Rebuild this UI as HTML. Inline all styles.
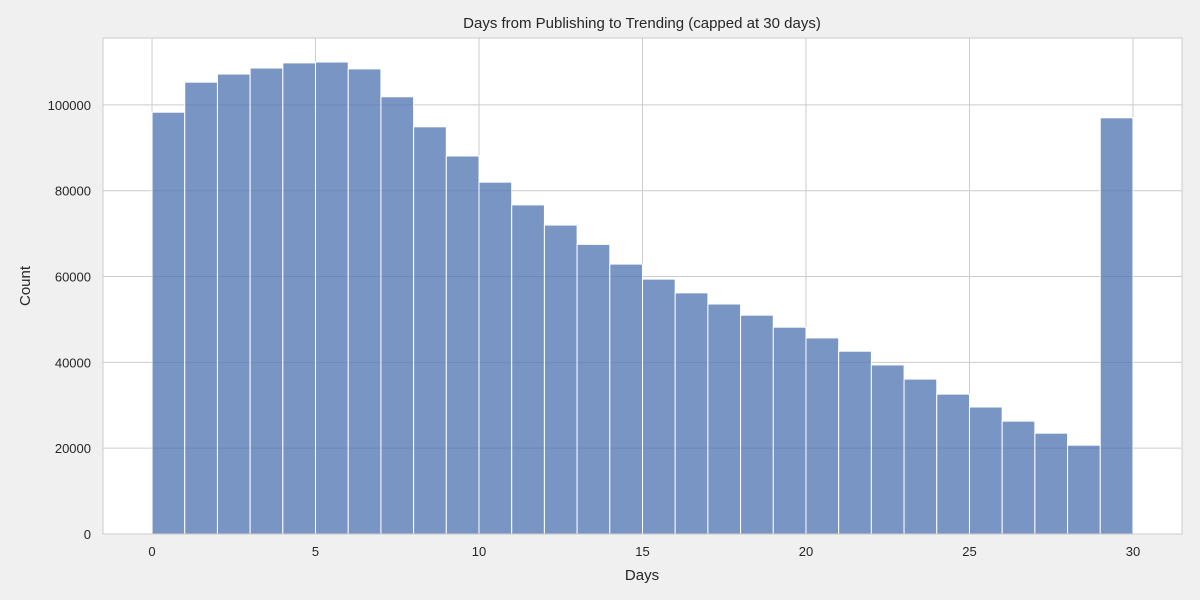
<!DOCTYPE html>
<html><head><meta charset="utf-8"><style>
body{margin:0;background:#f0f0f0;font-family:"Liberation Sans",sans-serif;}
svg{display:block}
</style></head><body>
<svg id="chart" width="1200" height="600">
<rect x="0" y="0" width="1200" height="600" fill="#f0f0f0"/>
<rect x="103" y="38" width="1079" height="496" fill="#ffffff"/>
<g id="grid"></g><g id="bars"></g><g id="ticks"></g>
<rect x="103" y="38" width="1079" height="496" fill="none" stroke="#cccccc" stroke-width="1"/>
<text x="642" y="28" text-anchor="middle" font-size="15" fill="#262626">Days from Publishing to Trending (capped at 30 days)</text>
<text x="642" y="580" text-anchor="middle" font-size="15" fill="#262626">Days</text>
<text x="30" y="286" text-anchor="middle" font-size="15" fill="#262626" transform="rotate(-90 30 286)">Count</text>
</svg>
<script>
const binStarts=[0,1,2,3,4,5,6,7,8,9,10,11,12,13,14,15,16,17,18,19,20,21,22,23,24,25,26,27,28,29];
const counts=[98300,105300,107200,108600,109800,110000,108400,101900,94900,88100,82000,76700,72000,67500,62900,59400,56200,53600,51000,48200,45700,42600,39400,36100,32600,29600,26300,23500,20700,97000];
const xTicks=[0,5,10,15,20,25,30];
const yTicks=[0,20000,40000,60000,80000,100000];
const binWidth=1;
const NS="http://www.w3.org/2000/svg";
const L=103,R=1182,T=38,B=534;
const xMin=-1.5,xMax=31.5,yMin=0,yMax=115600;
const sx=v=>L+(v-xMin)/(xMax-xMin)*(R-L);
const sy=v=>B-(v-yMin)/(yMax-yMin)*(B-T);
function mk(tag,attrs,parent){const e=document.createElementNS(NS,tag);for(const k in attrs)e.setAttribute(k,attrs[k]);parent.appendChild(e);return e;}
const grid=document.getElementById('grid'),bars=document.getElementById('bars'),ticks=document.getElementById('ticks');
xTicks.forEach(t=>{
 const l=mk('line',{x1:sx(t),x2:sx(t),y1:T,y2:B,stroke:'#cccccc','stroke-width':1},grid);
 
 
 const tx=mk('text',{x:sx(t),y:B+22,'text-anchor':'middle','font-size':13,fill:'#262626'},ticks);
 tx.textContent=t;
 
 
});
yTicks.forEach(t=>{
 const l=mk('line',{x1:L,x2:R,y1:sy(t),y2:sy(t),stroke:'#cccccc','stroke-width':1},grid);
 
 
 const tx=mk('text',{x:L-12,y:sy(t)+5,'text-anchor':'end','font-size':13,fill:'#262626'},ticks);
 tx.textContent=t;
 
 
});
binStarts.forEach((s,i)=>{
 const x0=sx(s),x1=sx(s+binWidth);
 const r=mk('rect',{x:x0,y:sy(counts[i]),width:x1-x0,height:sy(0)-sy(counts[i]),fill:'#4c72b0','fill-opacity':0.75,stroke:'#ffffff','stroke-width':1},bars);
 
 
});
</script>
</body></html>
